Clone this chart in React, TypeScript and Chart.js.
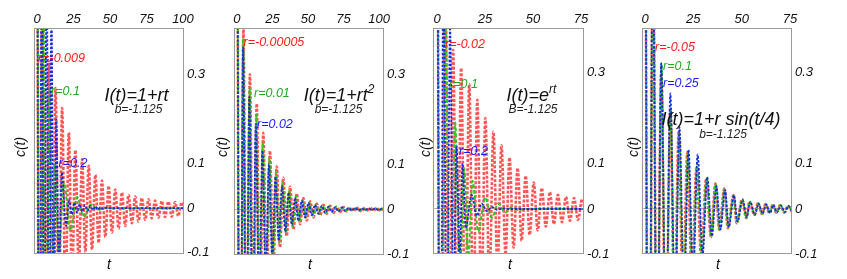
import React, { useEffect, useRef } from 'react';
import { Chart, registerables } from 'chart.js';

Chart.register(...registerables);

const FONT = '"Liberation Sans", Arial, Helvetica, sans-serif';

// ---------- tick labels ----------
const xTicks100 = [0, 25, 50, 75, 100];
const xTicks75 = [0, 25, 50, 75];
const yTicks = [0.3, 0.1, 0, -0.1];

// ---------- Panel 1 : I(t)=1+rt ----------
const p1RedT = [0, 1.8, 3.6, 5.9, 8.2, 10.5, 12.7, 15.0, 17.2, 19.5, 21.8, 24.0, 26.3, 28.6, 30.9, 33.1, 35.4, 37.7, 40.0, 42.2, 44.5, 46.8, 49.1, 51.3, 53.6, 55.9, 58.2, 60.4, 62.7, 65.0, 67.3, 69.5, 71.8, 74.1, 76.4, 78.6, 80.9, 83.2, 85.5, 87.7, 90.0, 92.3, 94.6, 96.8, 99.1, 101.4];
const p1RedC = [1.0, -0.8, 0.5, -0.45, 0.33, -0.32, 0.27, -0.27, 0.225, -0.22, 0.17, -0.17, 0.13, -0.135, 0.11, -0.1, 0.095, -0.093, 0.075, -0.078, 0.062, -0.065, 0.05, -0.055, 0.042, -0.046, 0.035, -0.04, 0.03, -0.034, 0.026, -0.03, 0.023, -0.026, 0.02, -0.023, 0.017, -0.021, 0.016, -0.02, 0.015, -0.019, 0.014, -0.018, 0.013, -0.017];
const p1GreenT = [0, 2.2, 4.4, 6.5, 8.6, 10.5, 12.4, 14.8, 18.5, 22.8, 27.5, 32.0, 37.0, 42.0, 47.0, 52.0, 101];
const p1GreenC = [1.0, -0.8, 0.5, -0.35, 0.27, -0.2, 0.1, -0.1, 0.058, -0.05, 0.025, -0.02, 0.008, -0.004, 0.001, 0, 0];
const p1BlueT = [0, 1.6, 3.3, 4.9, 6.6, 8.2, 9.9, 11.5, 13.2, 15.0, 17.0, 19.9, 22.0, 23.8, 25.6, 27.4, 29.2, 31.0, 32.8, 34.6, 36.4, 38.2, 40.0, 41.8, 43.6, 45.4, 47.2, 50.0, 101];
const p1BlueC = [1.0, -0.9, 0.75, -0.6, 0.6, -0.45, 0.45, -0.3, 0.2, -0.15, 0.08, -0.04, 0.02, -0.014, 0.012, -0.01, 0.009, -0.008, 0.007, -0.006, 0.005, -0.004, 0.004, -0.003, 0.002, -0.002, 0.001, 0, 0];

// ---------- Panel 2 : I(t)=1+rt^2 ----------
const p2RedT = [0, 2.25, 4.5, 6.8, 9.1, 11.5, 13.9, 16.2, 18.5, 20.9, 23.2, 25.6, 28.0, 30.3, 32.6, 35.0, 37.4, 39.8, 42.1, 44.5, 46.8, 49.2, 51.5, 53.9, 56.2, 58.6, 60.9, 63.3, 65.6, 68.0, 70.3, 72.7, 75.0, 77.4, 79.7, 82.1, 84.4, 86.8, 89.1, 91.5, 93.8, 96.2, 98.5, 100.9, 103.2];
const p2RedC = [1.0, -0.9, 0.4, -0.5, 0.3, -0.38, 0.235, -0.28, 0.17, -0.2, 0.13, -0.13, 0.095, -0.085, 0.07, -0.06, 0.05, -0.045, 0.035, -0.033, 0.025, -0.025, 0.018, -0.018, 0.013, -0.013, 0.01, -0.01, 0.008, -0.008, 0.006, -0.006, 0.005, -0.005, 0.004, -0.004, 0.004, -0.004, 0.003, -0.003, 0.003, -0.003, 0.003, -0.003, 0.002];
const p2GreenT = [0, 2.2, 4.4, 6.7, 8.9, 11.3, 13.6, 15.9, 18.2, 20.5, 22.8, 25.2, 27.5, 29.8, 32.1, 34.5, 36.8, 39.2, 41.5, 43.9, 46.2, 48.6, 50.9, 53.3, 55.6, 58.0, 60.3, 62.7, 65.0, 67.4, 69.7, 72.1, 74.4, 76.8, 79.1, 81.5, 83.8, 86.2, 88.5, 90.9, 93.2, 95.6, 97.9, 100.3, 102.6];
const p2GreenC = [1.0, -0.85, 0.38, -0.45, 0.27, -0.34, 0.21, -0.25, 0.15, -0.18, 0.115, -0.12, 0.083, -0.075, 0.06, -0.053, 0.043, -0.038, 0.03, -0.028, 0.021, -0.02, 0.015, -0.014, 0.011, -0.011, 0.008, -0.008, 0.006, -0.006, 0.005, -0.005, 0.004, -0.004, 0.003, -0.003, 0.003, -0.003, 0.002, -0.002, 0.002, -0.002, 0.002, -0.002, 0.002];
const p2BlueT = [0, 2.1, 4.3, 6.5, 8.7, 11.0, 13.3, 15.6, 17.9, 20.2, 22.5, 24.8, 27.1, 29.4, 31.7, 34.0, 36.3, 38.6, 40.9, 43.2, 45.6, 47.9, 50.3, 52.6, 55.0, 57.3, 59.7, 62.0, 64.4, 66.7, 69.1, 71.4, 73.8, 76.1, 78.5, 80.8, 83.2, 85.5, 87.9, 90.2, 92.6, 94.9, 97.3, 99.6, 102.0];
const p2BlueC = [1.0, -0.85, 0.36, -0.42, 0.25, -0.3, 0.19, -0.22, 0.13, -0.16, 0.1, -0.11, 0.072, -0.07, 0.052, -0.05, 0.037, -0.035, 0.026, -0.026, 0.019, -0.018, 0.014, -0.013, 0.01, -0.01, 0.008, -0.008, 0.006, -0.006, 0.005, -0.005, 0.004, -0.004, 0.003, -0.003, 0.003, -0.003, 0.002, -0.002, 0.002, -0.002, 0.002, -0.002, 0.002];

// ---------- Panel 3 : I(t)=e^{rt} ----------
const p3RedT = [0, 2.1, 4.2, 6.3, 8.4, 10.5, 12.6, 14.7, 16.8, 18.9, 21.0, 23.1, 25.2, 27.3, 29.4, 31.5, 33.6, 35.7, 37.8, 39.9, 42.0, 44.1, 46.2, 48.3, 50.4, 52.5, 54.6, 56.7, 58.8, 60.9, 63.0, 65.1, 67.2, 69.3, 71.4, 73.5, 75.6, 77.7];
const p3RedC = [1.0, -0.8, 0.6, -0.42, 0.35, -0.33, 0.31, -0.29, 0.275, -0.25, 0.24, -0.21, 0.2, -0.17, 0.17, -0.13, 0.14, -0.1, 0.113, -0.085, 0.09, -0.07, 0.073, -0.057, 0.058, -0.047, 0.046, -0.039, 0.037, -0.033, 0.031, -0.029, 0.027, -0.026, 0.024, -0.024, 0.022, -0.022];
const p3GreenT = [0, 2.0, 4.3, 6.9, 9.5, 11.8, 14.2, 16.2, 18.5, 21.5, 25.0, 28.5, 32.0, 35.5, 39.0, 42.5, 46.0, 77];
const p3GreenC = [1.0, -0.8, 0.45, -0.3, 0.19, -0.15, 0.09, -0.11, 0.062, -0.05, 0.025, -0.02, 0.012, -0.008, 0.004, -0.002, 0, 0];
const p3BlueT = [0, 1.7, 3.4, 5.1, 6.8, 8.6, 10.2, 11.8, 13.3, 15.0, 18.0, 20.7, 23.3, 26.0, 28.7, 31.4, 34.0, 37.0, 77];
const p3BlueC = [1.0, -0.8, 0.6, -0.45, 0.4, -0.25, 0.14, -0.12, 0.1, -0.042, 0.031, -0.015, 0.012, -0.005, 0.004, -0.002, 0.001, 0, 0];

// ---------- Panel 4 : I(t)=1+r sin(t/4) ----------
const p4RedT = [0, 2.0, 4.1, 6.2, 8.4, 10.7, 13.1, 15.2, 17.4, 19.6, 21.9, 24.2, 26.6, 29.1, 31.6, 34.1, 36.4, 38.4, 41.0, 42.8, 45.7, 47.4, 50.2, 52.3, 54.0, 56.6, 58.3, 60.5, 62.3, 64.3, 66.0, 67.8, 69.8, 72.1, 73.8, 76.0];
const p4RedC = [1.0, -0.9, 0.6, -0.45, 0.3, -0.35, 0.22, -0.25, 0.17, -0.2, 0.126, -0.15, 0.09, -0.11, 0.067, -0.061, 0.056, -0.046, 0.045, -0.042, 0.03, -0.031, 0.022, -0.02, 0.016, -0.013, 0.013, -0.011, 0.011, -0.009, 0.009, -0.008, 0.008, -0.008, 0.007, -0.006];
const p4GreenT = [0, 2.0, 4.1, 6.2, 8.5, 10.8, 13.2, 15.4, 17.6, 19.9, 22.2, 24.6, 27.0, 29.4, 31.8, 34.2, 36.5, 38.6, 41.1, 43.0, 45.8, 47.6, 50.3, 52.4, 54.2, 56.7, 58.5, 60.6, 62.5, 64.4, 66.2, 68.0, 70.0, 72.2, 74.0, 76.0];
const p4GreenC = [1.0, -0.9, 0.62, -0.45, 0.32, -0.33, 0.22, -0.24, 0.165, -0.19, 0.125, -0.14, 0.1, -0.11, 0.07, -0.062, 0.055, -0.047, 0.043, -0.04, 0.03, -0.03, 0.021, -0.02, 0.016, -0.013, 0.013, -0.011, 0.011, -0.009, 0.009, -0.008, 0.008, -0.007, 0.007, -0.006];
const p4BlueT = [0, 1.9, 4.0, 6.2, 8.4, 10.8, 13.1, 15.5, 17.8, 20.2, 22.5, 24.9, 27.2, 29.8, 32.2, 34.6, 36.9, 39.0, 41.4, 43.3, 46.0, 47.8, 50.5, 52.6, 54.4, 56.8, 58.7, 60.8, 62.7, 64.6, 66.4, 68.2, 70.2, 72.4, 74.2, 76.0];
const p4BlueC = [1.0, -0.9, 0.6, -0.45, 0.32, -0.32, 0.254, -0.24, 0.18, -0.19, 0.13, -0.15, 0.12, -0.1, 0.07, -0.06, 0.05, -0.045, 0.042, -0.04, 0.03, -0.028, 0.02, -0.018, 0.016, -0.013, 0.012, -0.01, 0.01, -0.009, 0.009, -0.008, 0.008, -0.007, 0.007, -0.006];

// ---------- labels ----------
const formula1 = [['I(t)=1+rt', false]];
const formula2 = [['I(t)=1+rt', false], ['2', true]];
const formula3 = [['I(t)=e', false], ['rt', true]];
const formula4 = [['I(t)=1+r sin(t/4)', false]];
const bLabels = ['b=-1.125', 'b=-1.125', 'B=-1.125', 'b=-1.125'];
const rLabels1 = ['r=-0.009', 'r=0.1', 'r=0.2'];
const rLabels2 = ['r=-0.00005', 'r=0.01', 'r=0.02'];
const rLabels3 = ['r=-0.02', 'r=0.1', 'r=0.2'];
const rLabels4 = ['r=-0.05', 'r=0.1', 'r=0.25'];

const RED = 'rgba(255,55,55,0.85)';
const GREEN = 'rgb(55,195,35)';
const BLUE = 'rgb(25,45,215)';
const RED_TXT = '#ff1a1a';
const GREEN_TXT = '#22aa22';
const BLUE_TXT = '#1a1aff';

const H = 279;

type Panel = {
  cx: number; cw: number; box: number[];
  xMin: number; xMax: number; yMin: number; yMax: number; xTicks: number[];
  red: number[][]; green: number[][]; blue: number[][];
  formula: any[]; fPos: number[]; b: string; bPos: number[];
  r: string[]; rPos: number[][]; cPos: number[]; tPos: number[];
};

const panels: Panel[] = [
  {
    cx: 0, cw: 214, box: [34, 28, 184, 254], xMin: -2.05, xMax: 100.7, yMin: -0.103, yMax: 0.405, xTicks: xTicks100,
    red: [p1RedT, p1RedC], green: [p1GreenT, p1GreenC], blue: [p1BlueT, p1BlueC],
    formula: formula1, fPos: [136.5, 101], b: bLabels[0], bPos: [138.5, 113],
    r: rLabels1, rPos: [[38, 62], [51, 95], [58.5, 167]], cPos: [21, 147], tPos: [109, 265],
  },
  {
    cx: 206, cw: 220, box: [234, 28, 384, 255], xMin: -2.1, xMax: 103.5, yMin: -0.1016, yMax: 0.403, xTicks: xTicks100,
    red: [p2RedT, p2RedC], green: [p2GreenT, p2GreenC], blue: [p2BlueT, p2BlueC],
    formula: formula2, fPos: [339, 101], b: bLabels[1], bPos: [338.5, 113],
    r: rLabels2, rPos: [[243.5, 46], [254, 97], [257, 128]], cPos: [223, 147], tPos: [310, 265],
  },
  {
    cx: 414, cw: 224, box: [433, 28, 584, 254], xMin: -2.08, xMax: 76.6, yMin: -0.099, yMax: 0.398, xTicks: xTicks75,
    red: [p3RedT, p3RedC], green: [p3GreenT, p3GreenC], blue: [p3BlueT, p3BlueC],
    formula: formula3, fPos: [531.5, 101], b: bLabels[2], bPos: [533, 113],
    r: rLabels3, rPos: [[445, 48], [449, 88], [459, 155]], cPos: [426, 147], tPos: [510, 265],
  },
  {
    cx: 626, cw: 221, box: [642, 28, 792, 254], xMin: -1.55, xMax: 76, yMin: -0.099, yMax: 0.398, xTicks: xTicks75,
    red: [p4RedT, p4RedC], green: [p4GreenT, p4GreenC], blue: [p4BlueT, p4BlueC],
    formula: formula4, fPos: [721, 124.5], b: bLabels[3], bPos: [723, 138],
    r: rLabels4, rPos: [[655, 51], [663, 69.5], [663, 87]], cPos: [634, 147], tPos: [718, 265],
  },
];

function toPts(s: number[][]) {
  return s[0].map((t, i) => ({ x: t, y: s[1][i] }));
}

function makeChart(canvas: HTMLCanvasElement, p: Panel) {
  const [L, T, R, B] = p.box;
  const it = (size: number) => `italic ${size}px ${FONT}`;
  const decor = {
    id: 'decor',
    afterDatasetsDraw(chart: any) {
      const ctx = chart.ctx as CanvasRenderingContext2D;
      const a = chart.chartArea;
      ctx.save();
      ctx.strokeStyle = '#9a9a9a';
      ctx.lineWidth = 1;
      ctx.strokeRect(a.left + 0.5, a.top + 0.5, a.right - a.left - 1, a.bottom - a.top - 1);
      ctx.translate(-p.cx, 0);
      // formula
      ctx.fillStyle = '#111';
      ctx.textBaseline = 'alphabetic';
      ctx.textAlign = 'left';
      let total = 0;
      const widths = p.formula.map((part: any) => {
        ctx.font = part[1] ? it(12) : it(18);
        const w = ctx.measureText(part[0]).width;
        total += w;
        return w;
      });
      let x = p.fPos[0] - total / 2;
      p.formula.forEach((part: any, i: number) => {
        ctx.font = part[1] ? it(12) : it(18);
        ctx.fillText(part[0], x, p.fPos[1] - (part[1] ? 8 : 0));
        x += widths[i];
      });
      ctx.font = it(12);
      ctx.textAlign = 'center';
      ctx.fillStyle = '#222';
      ctx.fillText(p.b, p.bPos[0], p.bPos[1]);
      // r labels
      ctx.textAlign = 'left';
      ctx.font = it(12.5);
      const cols = [RED_TXT, GREEN_TXT, BLUE_TXT];
      p.r.forEach((txt, i) => {
        ctx.fillStyle = cols[i];
        ctx.fillText(txt, p.rPos[i][0], p.rPos[i][1]);
      });
      // axis titles
      ctx.fillStyle = '#111';
      ctx.font = it(14);
      ctx.textAlign = 'center';
      ctx.textBaseline = 'middle';
      ctx.fillText('t', p.tPos[0], p.tPos[1]);
      ctx.save();
      ctx.translate(p.cPos[0], p.cPos[1]);
      ctx.rotate(-Math.PI / 2);
      ctx.fillText('c(t)', 0, 0);
      ctx.restore();
      ctx.restore();
    },
  };
  const mk = (s: number[][], color: string, width: number, dash: number[]) => ({
    data: toPts(s),
    borderColor: color,
    borderWidth: width,
    borderDash: dash,
    pointRadius: 0,
    cubicInterpolationMode: 'monotone',
    clip: 0,
    fill: false,
  });
  return new Chart(canvas, {
    type: 'line',
    data: {
      datasets: [
        mk(p.blue, BLUE, 1.8, [2.5, 1.5]),
        mk(p.green, GREEN, 2, [4, 2]),
        mk(p.red, RED, 2.6, [3, 1.6]),
      ] as any,
    },
    options: {
      responsive: false,
      animation: false,
      events: [],
      layout: { padding: { left: L - p.cx, top: 0, right: 0, bottom: H - B } },
      plugins: { legend: { display: false }, tooltip: { enabled: false } },
      scales: {
        x: {
          type: 'linear',
          position: 'top',
          min: p.xMin,
          max: p.xMax,
          afterFit: (s: any) => { s.height = T; },
          afterBuildTicks: (s: any) => { s.ticks = p.xTicks.map((v) => ({ value: v })); },
          grid: { display: false, drawTicks: false },
          border: { display: false },
          ticks: {
            padding: 1,
            autoSkip: false,
            maxRotation: 0,
            color: '#111',
            font: { family: FONT, size: 13, style: 'italic' },
            callback: (v: any) => String(v),
          },
        },
        y: {
          type: 'linear',
          position: 'right',
          min: p.yMin,
          max: p.yMax,
          afterFit: (s: any) => { s.width = p.cx + p.cw - R; },
          afterBuildTicks: (s: any) => { s.ticks = yTicks.map((v) => ({ value: v })); },
          grid: {
            drawTicks: false,
            color: (c: any) => (c.tick && c.tick.value === 0 ? '#b5b5b5' : 'rgba(0,0,0,0)'),
          },
          border: { display: false },
          ticks: {
            padding: 3,
            autoSkip: false,
            color: '#111',
            font: { family: FONT, size: 13, style: 'italic' },
            callback: (v: any) => String(v),
          },
        },
      },
    } as any,
    plugins: [decor],
  });
}

function PanelChart({ p }: { p: Panel }) {
  const ref = useRef<HTMLCanvasElement>(null);
  useEffect(() => {
    if (!ref.current) return;
    const ch = makeChart(ref.current, p);
    return () => ch.destroy();
  }, [p]);
  return (
    <canvas
      ref={ref}
      width={p.cw}
      height={H}
      style={{ position: 'absolute', left: p.cx, top: 0, width: p.cw, height: H, display: 'block' }}
    />
  );
}

export default function App() {
  return (
    <div style={{ position: 'absolute', left: 0, top: 0, width: 847, height: H, background: '#fff', overflow: 'hidden' }}>
      {panels.map((p, i) => (
        <PanelChart key={i} p={p} />
      ))}
    </div>
  );
}
